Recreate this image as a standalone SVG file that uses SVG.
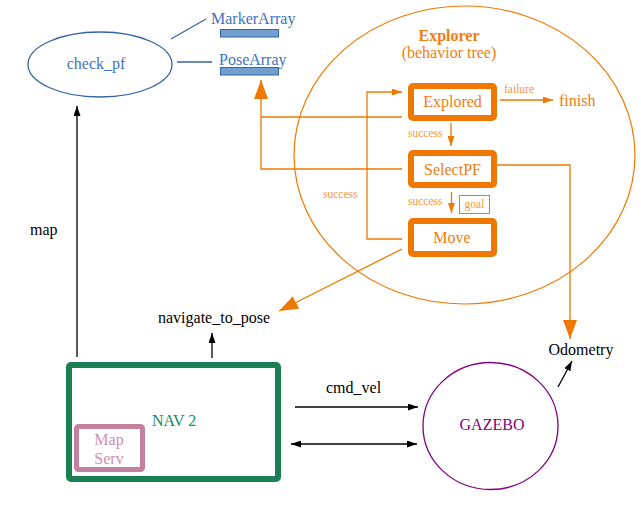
<svg xmlns="http://www.w3.org/2000/svg" width="641" height="507" viewBox="0 0 641 507">
<style>
text{font-family:"Liberation Serif","Times New Roman",serif;font-size:16px}
.blue{fill:#3f73bd}
.or{fill:#ef7d10}
.sm{fill:#f2973a;font-size:11.5px}
.blk{fill:#000}
.bx{fill:#fff;stroke:#ef7800;stroke-width:6}
.oline{fill:none;stroke:#ef7800;stroke-width:1.3}
.bline{fill:none;stroke:#000;stroke-width:1.3}
</style>
<defs>
<marker id="bigO" viewBox="0 0 19 14" refX="19" refY="7" markerWidth="19" markerHeight="14" markerUnits="userSpaceOnUse" orient="auto"><path d="M0,0 L19,7 L0,14 z" fill="#ef7800"/></marker>
<marker id="smO" viewBox="0 0 10 7" refX="10" refY="3.5" markerWidth="10" markerHeight="7" markerUnits="userSpaceOnUse" orient="auto"><path d="M0,0 L10,3.5 L0,7 z" fill="#ef7800"/></marker>
<marker id="blkA" viewBox="0 0 10 7" refX="10" refY="3.5" markerWidth="10" markerHeight="7" markerUnits="userSpaceOnUse" orient="auto-start-reverse"><path d="M0,0 L10,3.5 L0,7 z" fill="#000"/></marker>
</defs>
<rect width="641" height="507" fill="#fff"/>

<g id="explorer">
<ellipse cx="464.5" cy="155" rx="170.5" ry="149" fill="none" stroke="#ef7800" stroke-width="1.2"/>
<text x="449" y="41" text-anchor="middle" class="or" font-weight="bold">Explorer</text>
<text x="449" y="58" text-anchor="middle" class="or">(behavior tree)</text>
</g>

<g id="check_pf">
<ellipse cx="100" cy="64.5" rx="72" ry="32.5" fill="none" stroke="#3465a4" stroke-width="1.3"/>
<text x="96" y="69" text-anchor="middle" class="blue">check_pf</text>
</g>

<g id="MarkerArray">
<text x="211" y="24" class="blue">MarkerArray</text>
<rect x="220.5" y="29.5" width="58" height="7.5" fill="#729fcf" stroke="#3465a4" stroke-width="1"/>
</g>

<g id="PoseArray">
<text x="219" y="65" class="blue">PoseArray</text>
<rect x="220.5" y="67.5" width="58" height="7.5" fill="#729fcf" stroke="#3465a4" stroke-width="1"/>
</g>

<g id="Explored">
<rect class="bx" x="411" y="86" width="83" height="32" rx="2"/>
<text x="452.5" y="107" text-anchor="middle" class="or">Explored</text>
</g>

<g id="SelectPF">
<rect class="bx" x="411" y="153" width="83" height="32" rx="2"/>
<text x="452.5" y="175" text-anchor="middle" class="or">SelectPF</text>
</g>

<g id="Move">
<rect class="bx" x="411" y="221" width="83" height="33" rx="2"/>
<text x="452" y="243" text-anchor="middle" class="or">Move</text>
</g>

<g id="finish">
<text x="559" y="106" class="or">finish</text>
</g>

<g id="goal">
<rect x="459.5" y="195.5" width="30" height="18" fill="none" stroke="#ef7800" stroke-width="1"/>
<text x="474.5" y="208" text-anchor="middle" class="sm" font-size="12px">goal</text>
</g>

<g id="navigate_to_pose">
<text x="214" y="323" text-anchor="middle" class="blk">navigate_to_pose</text>
</g>

<g id="Odometry">
<text x="581" y="355" text-anchor="middle" class="blk">Odometry</text>
</g>

<g id="NAV2">
<rect x="69" y="365" width="209" height="114" rx="2" fill="#fff" stroke="#1a7f52" stroke-width="6"/>
<text x="152" y="426" fill="#178a60" font-size="15px">NAV 2</text>
</g>

<g id="MapServ">
<rect x="76.5" y="426.5" width="66" height="43" rx="2" fill="#fff" stroke="#c3819f" stroke-width="5"/>
<text x="109" y="445" text-anchor="middle" fill="#d08fae">Map</text>
<text x="109" y="464" text-anchor="middle" fill="#d08fae">Serv</text>
</g>

<g id="GAZEBO">
<ellipse cx="490.5" cy="426" rx="67.5" ry="63.5" fill="none" stroke="#800080" stroke-width="1.3"/>
<text x="492" y="430" text-anchor="middle" fill="#800080">GAZEBO</text>
</g>

<g id="connectors">
<path d="M171,39 L206,19" fill="none" stroke="#3465a4" stroke-width="1.3"/>
<path d="M177,62 H212" fill="none" stroke="#3465a4" stroke-width="1.3"/>
<path class="oline" d="M402,117 H261"/>
<path class="oline" d="M402,169 H261 V80" marker-end="url(#bigO)"/>
<path class="oline" d="M497,165 H570 V339" marker-end="url(#bigO)"/>
<path class="oline" d="M402,249 L279,311" marker-end="url(#bigO)"/>
<path class="oline" d="M500,100 H553" marker-end="url(#smO)"/>
<path class="oline" d="M451,123 V146" marker-end="url(#smO)"/>
<path class="oline" d="M451.5,192 V213" marker-end="url(#smO)"/>
<path class="oline" d="M402,239 H367 V92 H402" marker-end="url(#smO)"/>
<text x="504" y="93" class="sm">failure</text>
<text x="408" y="137" class="sm">success</text>
<text x="408" y="205" class="sm">success</text>
<text x="323" y="198" class="sm">success</text>
<path class="bline" d="M77,357 V106" marker-end="url(#blkA)"/>
<text x="30" y="235" class="blk">map</text>
<path class="bline" d="M212,358 V333" marker-end="url(#blkA)"/>
<path class="bline" d="M295,407 H418" marker-end="url(#blkA)"/>
<text x="326" y="393" class="blk">cmd_vel</text>
<path class="bline" d="M291,444 H417" marker-start="url(#blkA)" marker-end="url(#blkA)"/>
<path class="bline" d="M558,387 L572,361" marker-end="url(#blkA)"/>
</g>
</svg>
